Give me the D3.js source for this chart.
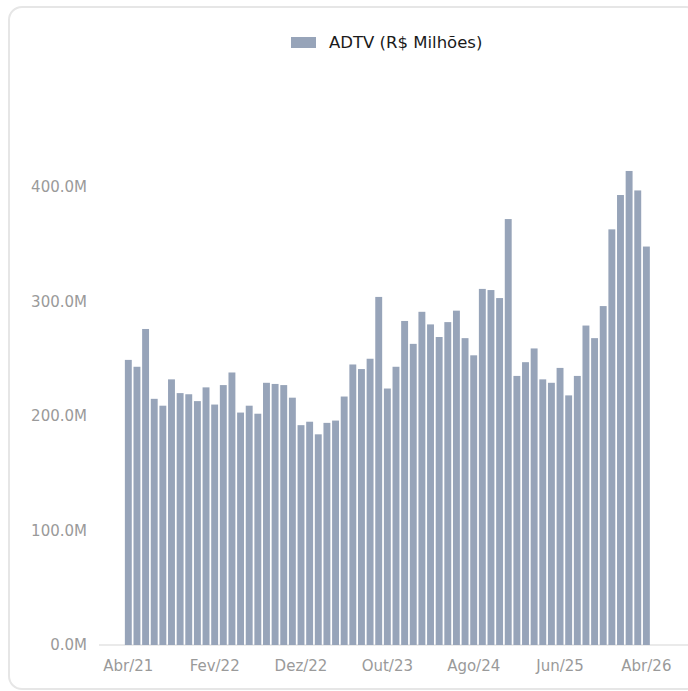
<!DOCTYPE html>
<html>
<head>
<meta charset="utf-8">
<script src="https://cdn.jsdelivr.net/npm/d3@7"></script>
<style>
  html, body { margin: 0; padding: 0; background: #ffffff; }
  svg { display: block; font-family: "DejaVu Sans", sans-serif; }
</style>
</head>
<body>
<svg id="chart" width="688" height="691"></svg>
<script>
const categories = [
  "Abr/21","Mai/21","Jun/21","Jul/21","Ago/21","Set/21","Out/21","Nov/21","Dez/21",
  "Jan/22","Fev/22","Mar/22","Abr/22","Mai/22","Jun/22","Jul/22","Ago/22","Set/22","Out/22","Nov/22","Dez/22",
  "Jan/23","Fev/23","Mar/23","Abr/23","Mai/23","Jun/23","Jul/23","Ago/23","Set/23","Out/23","Nov/23","Dez/23",
  "Jan/24","Fev/24","Mar/24","Abr/24","Mai/24","Jun/24","Jul/24","Ago/24","Set/24","Out/24","Nov/24","Dez/24",
  "Jan/25","Fev/25","Mar/25","Abr/25","Mai/25","Jun/25","Jul/25","Ago/25","Set/25","Out/25","Nov/25","Dez/25",
  "Jan/26","Fev/26","Mar/26","Abr/26"
];
const adtv = [
  249, 243, 276, 215, 209, 232, 220, 219, 213, 225, 210, 227, 238, 203, 209, 202, 229, 228, 227, 216,
  192, 195, 184, 194, 196, 217, 245, 241, 250, 304, 224, 243, 283, 263, 291, 280, 269, 282, 292, 268,
  253, 311, 310, 303, 372, 235, 247, 259, 232, 229, 242, 218, 235, 279, 268, 296, 363, 393, 414, 397,
  348
];
const yTicks = [0, 100, 200, 300, 400];
const xTickLabels = ["Abr/21","Fev/22","Dez/22","Out/23","Ago/24","Jun/25","Abr/26"];
const seriesName = "ADTV (R$ Milhões)";

const svg = d3.select("#chart");

// card
svg.append("rect")
  .attr("x", 9).attr("y", 7)
  .attr("width", 690).attr("height", 682)
  .attr("rx", 13).attr("ry", 13)
  .attr("fill", "#ffffff")
  .attr("stroke", "#e6e6e6")
  .attr("stroke-width", 2);

const x = d3.scaleBand()
  .domain(categories)
  .range([124, 650.7])
  .paddingInner(0.2)
  .paddingOuter(0.1);

const y = d3.scaleLinear()
  .domain([0, 450])
  .range([645, 645 - 450 * 1.145]);

const barColor = "#97a4b9";

// baseline
svg.append("line")
  .attr("x1", 99).attr("x2", 688)
  .attr("y1", y(0)).attr("y2", y(0))
  .attr("stroke", "#e3e3e3")
  .attr("stroke-width", 1.5);

// bars
svg.append("g").selectAll("rect")
  .data(adtv)
  .join("rect")
  .attr("x", (d, i) => x(categories[i]))
  .attr("y", d => y(d))
  .attr("width", x.bandwidth())
  .attr("height", d => y(0) - y(d))
  .attr("fill", barColor);

// y axis
const yAxis = d3.axisLeft(y)
  .tickValues(yTicks)
  .tickSize(0)
  .tickPadding(0)
  .tickFormat(d => d.toFixed(1) + "M");
const gy = svg.append("g")
  .attr("transform", "translate(87,0)")
  .call(yAxis);
gy.select(".domain").remove();
gy.selectAll("text")
  .attr("fill", "#9a9a9a")
  .attr("font-size", 15)
  .attr("font-family", "DejaVu Sans, sans-serif");

// x axis
const xAxis = d3.axisBottom(x)
  .tickValues(xTickLabels)
  .tickSize(0)
  .tickPadding(0);
const gx = svg.append("g")
  .attr("transform", "translate(0,660)")
  .call(xAxis);
gx.select(".domain").remove();
gx.selectAll("text")
  .attr("dy", "0.71em")
  .attr("fill", "#9a9a9a")
  .attr("font-size", 15)
  .attr("font-family", "DejaVu Sans, sans-serif");

// legend
const lg = svg.append("g");
lg.append("rect")
  .attr("x", 291).attr("y", 37)
  .attr("width", 25).attr("height", 11)
  .attr("fill", barColor);
lg.append("text")
  .attr("x", 329).attr("y", 48)
  .attr("font-size", 16.5)
  .attr("fill", "#1a1a1a")
  .text(seriesName);
</script>
</body>
</html>
